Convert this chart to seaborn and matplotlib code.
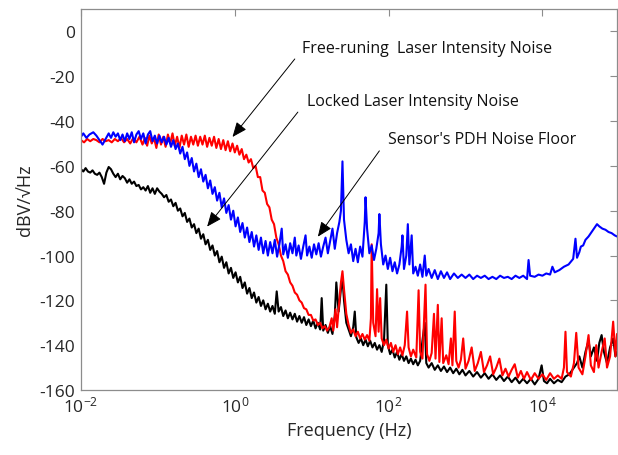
import matplotlib
matplotlib.use("Agg")
import numpy as np
import pandas as pd
import matplotlib.pyplot as plt
import seaborn as sns
from matplotlib.ticker import FixedLocator, NullLocator

# -----------------------------
# Data (log10 of frequency, dBV/sqrt(Hz))
# -----------------------------
blue_logf = [
    -2.00, -1.97, -1.93, -1.89, -1.84, -1.80, -1.76, -1.72, -1.68, -1.64,
    -1.61, -1.58, -1.55, -1.52, -1.49, -1.46, -1.43, -1.40, -1.37, -1.34,
    -1.31, -1.28, -1.25, -1.22, -1.19, -1.16, -1.13, -1.10, -1.07, -1.04,
    -1.01, -0.98, -0.95, -0.92, -0.89, -0.86, -0.83, -0.80, -0.77, -0.74,
    -0.71, -0.68, -0.65, -0.62, -0.59, -0.56, -0.53, -0.50, -0.47, -0.44,
    -0.41, -0.38, -0.35, -0.32, -0.29, -0.26, -0.23, -0.20, -0.17, -0.14,
    -0.11, -0.08, -0.05, -0.02, 0.01, 0.04, 0.07, 0.10, 0.13, 0.16,
    0.19, 0.22, 0.25, 0.28, 0.31, 0.34, 0.37, 0.40, 0.43, 0.46,
    0.49, 0.52, 0.55, 0.58, 0.61, 0.63, 0.66, 0.69, 0.72, 0.75,
    0.78, 0.80, 0.83, 0.86, 0.89, 0.92, 0.94, 0.97, 1.00, 1.03,
    1.06, 1.09, 1.12, 1.15, 1.18, 1.21, 1.24, 1.27, 1.30, 1.33,
    1.36, 1.38, 1.40, 1.42, 1.45, 1.48, 1.51, 1.54, 1.57, 1.60,
    1.63, 1.66, 1.69, 1.70, 1.72, 1.75, 1.78, 1.81, 1.84, 1.87,
    1.88, 1.90, 1.93, 1.96, 1.99, 2.02, 2.05, 2.08, 2.11, 2.14,
    2.17, 2.18, 2.20, 2.23, 2.25, 2.27, 2.30, 2.32, 2.35, 2.38,
    2.41, 2.44, 2.47, 2.49, 2.52, 2.56, 2.60, 2.64, 2.68, 2.72,
    2.76, 2.80, 2.85, 2.90, 2.95, 3.00, 3.05, 3.10, 3.15, 3.20,
    3.25, 3.30, 3.35, 3.40, 3.45, 3.50, 3.55, 3.60, 3.65, 3.70,
    3.75, 3.80, 3.82, 3.84, 3.90, 3.95, 4.00, 4.05, 4.10, 4.13,
    4.16, 4.22, 4.28, 4.34, 4.40, 4.43, 4.45, 4.48, 4.50, 4.53,
    4.56, 4.60, 4.64, 4.68, 4.71, 4.74, 4.78, 4.82, 4.86, 4.90,
    4.94, 4.97,
]
blue_db = [
    -47.0, -45.5, -47.5, -46.0, -45.0, -46.5, -48.5, -50.5, -48.0, -45.5,
    -47.5, -45.0, -47.0, -45.5, -48.5, -46.0, -49.0, -45.5, -48.0, -45.0,
    -49.5, -46.0, -44.5, -48.0, -45.5, -50.0, -46.0, -44.5, -49.0, -46.5,
    -50.0, -46.5, -49.5, -47.0, -50.5, -47.5, -51.5, -48.5, -52.5, -50.0,
    -54.5, -51.5, -57.0, -54.0, -60.0, -56.5, -62.5, -59.0, -65.0, -61.5,
    -67.0, -64.0, -70.0, -66.5, -72.5, -69.5, -75.5, -72.0, -78.5, -74.5,
    -81.0, -77.5, -84.0, -80.0, -87.0, -83.0, -89.5, -85.5, -92.0, -87.5,
    -94.0, -89.5, -96.0, -91.0, -97.5, -92.0, -99.0, -93.5, -100.0, -94.0,
    -99.0, -93.0, -100.5, -95.0, -88.0, -99.5, -95.0, -101.0, -94.5, -99.0,
    -92.0, -100.0, -95.5, -101.5, -96.0, -91.0, -100.0, -96.0, -101.0, -95.0,
    -99.5, -94.5, -100.5, -96.0, -92.0, -99.0, -93.5, -88.0, -97.0, -90.0,
    -85.0, -80.0, -58.0, -84.0, -93.0, -99.0, -95.0, -102.5, -97.0, -103.0,
    -96.0, -100.5, -85.0, -74.0, -88.0, -99.0, -95.5, -102.0, -97.0, -90.0,
    -81.5, -95.0, -104.0, -100.0, -106.0, -101.0, -107.0, -103.0, -108.0, -104.0,
    -96.0, -91.0, -106.0, -100.0, -86.0, -104.0, -91.0, -108.0, -105.0, -109.0,
    -104.0, -109.5, -100.0, -109.0, -106.0, -110.0, -106.5, -110.5, -107.0, -110.0,
    -107.5, -110.5, -108.0, -110.0, -108.5, -110.0, -108.5, -110.5, -109.0, -110.0,
    -109.0, -110.5, -109.5, -110.5, -109.0, -110.0, -109.5, -110.5, -109.0, -110.0,
    -109.0, -110.5, -102.0, -109.0, -109.5, -108.5, -109.0, -108.0, -108.5, -105.0,
    -107.5, -106.5, -105.0, -104.0, -101.5, -92.5, -101.0, -98.5, -96.0, -95.5,
    -93.0, -91.5, -89.5, -87.5, -86.0, -87.0, -88.0, -88.5, -89.5, -90.0,
    -91.0, -91.5,
]

red_logf = [
    -2.00, -1.96, -1.92, -1.88, -1.84, -1.80, -1.76, -1.72, -1.68, -1.64,
    -1.60, -1.56, -1.52, -1.48, -1.44, -1.40, -1.36, -1.32, -1.28, -1.24,
    -1.20, -1.17, -1.14, -1.11, -1.08, -1.05, -1.02, -0.99, -0.96, -0.93,
    -0.90, -0.87, -0.84, -0.81, -0.78, -0.75, -0.72, -0.69, -0.66, -0.63,
    -0.60, -0.57, -0.54, -0.51, -0.48, -0.45, -0.42, -0.39, -0.36, -0.33,
    -0.30, -0.27, -0.24, -0.21, -0.18, -0.15, -0.12, -0.09, -0.06, -0.03,
    0.00, 0.03, 0.06, 0.09, 0.12, 0.15, 0.18, 0.21, 0.24, 0.27,
    0.30, 0.33, 0.36, 0.39, 0.42, 0.45, 0.48, 0.51, 0.54, 0.57,
    0.60, 0.63, 0.66, 0.69, 0.72, 0.75, 0.78, 0.81, 0.84, 0.87,
    0.90, 0.93, 0.96, 0.99, 1.02, 1.05, 1.08, 1.11, 1.14, 1.17,
    1.20, 1.23, 1.26, 1.28, 1.31, 1.33, 1.36, 1.38, 1.40, 1.42,
    1.45, 1.48, 1.51, 1.54, 1.57, 1.60, 1.63, 1.66, 1.69, 1.72,
    1.75, 1.77, 1.78, 1.80, 1.83, 1.85, 1.87, 1.89, 1.91, 1.94,
    1.97, 2.00, 2.03, 2.06, 2.09, 2.12, 2.15, 2.18, 2.21, 2.24,
    2.26, 2.29, 2.32, 2.36, 2.39, 2.41, 2.44, 2.48, 2.50, 2.53,
    2.56, 2.59, 2.61, 2.64, 2.66, 2.69, 2.71, 2.75, 2.78, 2.81,
    2.83, 2.86, 2.88, 2.91, 2.94, 2.97, 3.00, 3.04, 3.08, 3.12,
    3.16, 3.20, 3.24, 3.28, 3.32, 3.36, 3.40, 3.44, 3.48, 3.52,
    3.56, 3.60, 3.64, 3.68, 3.72, 3.76, 3.80, 3.85, 3.90, 3.95,
    4.00, 4.05, 4.10, 4.15, 4.20, 4.25, 4.28, 4.30, 4.32, 4.37,
    4.41, 4.44, 4.47, 4.52, 4.56, 4.60, 4.63, 4.67, 4.70, 4.73,
    4.77, 4.81, 4.84, 4.88, 4.92, 4.95, 4.97,
]
red_db = [
    -48.5, -49.5, -48.0, -49.0, -48.0, -48.5, -49.5, -48.0, -49.0, -48.5,
    -49.5, -48.0, -49.0, -47.5, -49.5, -48.0, -50.0, -47.5, -49.5, -47.0,
    -50.5, -47.5, -51.0, -46.5, -50.0, -47.5, -52.0, -46.0, -50.5, -47.0,
    -51.5, -46.0, -50.0, -45.5, -51.0, -47.0, -52.0, -46.5, -50.5, -46.0,
    -51.5, -47.0, -50.5, -46.5, -51.0, -47.0, -50.5, -46.5, -51.5, -47.5,
    -51.0, -47.0, -52.0, -48.0, -52.5, -48.5, -53.0, -49.0, -53.5, -50.0,
    -54.0, -51.0, -55.0, -52.5, -57.0, -55.0, -58.5, -57.0, -61.0, -60.0,
    -65.0, -65.0, -71.0, -72.0, -77.0, -78.5, -84.0, -86.0, -92.0, -95.0,
    -100.0, -102.5, -107.0, -108.5, -112.0, -113.5, -116.5, -117.5, -120.0, -121.0,
    -123.5, -124.0, -126.5, -126.5, -129.0, -128.5, -131.0, -130.0, -132.5, -131.5,
    -133.5, -132.0, -128.0, -133.5, -124.0, -132.0, -120.0, -112.0, -107.0, -115.0,
    -126.0, -131.0, -134.5, -133.0, -136.0, -134.0, -137.0, -135.0, -137.5, -135.5,
    -138.0, -128.0, -95.0, -130.0, -136.0, -115.0, -134.0, -119.0, -137.0, -140.0,
    -137.5, -141.5, -139.0, -143.0, -140.0, -144.0, -141.0, -144.5, -140.0, -125.0,
    -141.0, -145.0, -142.0, -145.5, -115.5, -143.0, -146.0, -113.0, -144.0, -147.0,
    -143.5, -126.0, -146.0, -122.0, -147.5, -128.0, -148.0, -144.5, -148.5, -137.0,
    -149.0, -125.0, -147.0, -150.0, -146.5, -137.0, -150.5, -147.0, -141.0, -151.5,
    -148.0, -143.0, -152.0, -149.0, -145.0, -153.0, -150.0, -146.0, -153.5, -150.5,
    -154.0, -151.0, -148.5, -154.5, -151.5, -155.0, -152.0, -155.5, -152.5, -155.0,
    -153.0, -155.5, -152.5, -155.0, -153.5, -155.0, -150.0, -134.0, -152.0, -154.0,
    -148.0, -134.5, -150.0, -153.0, -145.0, -135.5, -149.0, -152.0, -140.0, -150.0,
    -143.0, -137.0, -150.0, -145.0, -129.5, -145.0, -135.0,
]

black_logf = [
    -2.00, -1.97, -1.94, -1.91, -1.88, -1.85, -1.82, -1.79, -1.76, -1.73,
    -1.70, -1.67, -1.64, -1.61, -1.58, -1.55, -1.52, -1.49, -1.46, -1.43,
    -1.40, -1.37, -1.34, -1.31, -1.28, -1.25, -1.22, -1.19, -1.16, -1.13,
    -1.10, -1.07, -1.04, -1.01, -0.98, -0.95, -0.92, -0.89, -0.86, -0.83,
    -0.80, -0.77, -0.74, -0.71, -0.68, -0.65, -0.62, -0.59, -0.56, -0.53,
    -0.50, -0.47, -0.44, -0.41, -0.38, -0.35, -0.32, -0.29, -0.26, -0.23,
    -0.20, -0.17, -0.14, -0.11, -0.08, -0.05, -0.02, 0.01, 0.04, 0.07,
    0.10, 0.13, 0.16, 0.19, 0.22, 0.25, 0.28, 0.31, 0.34, 0.37,
    0.40, 0.43, 0.46, 0.49, 0.52, 0.545, 0.57, 0.60, 0.63, 0.66,
    0.69, 0.72, 0.75, 0.78, 0.81, 0.84, 0.87, 0.90, 0.93, 0.96,
    0.99, 1.02, 1.05, 1.08, 1.11, 1.13, 1.15, 1.18, 1.21, 1.24,
    1.27, 1.30, 1.32, 1.35, 1.38, 1.40, 1.42, 1.45, 1.48, 1.51,
    1.54, 1.56, 1.58, 1.61, 1.64, 1.67, 1.70, 1.73, 1.76, 1.79,
    1.82, 1.85, 1.88, 1.91, 1.94, 1.97, 1.99, 2.02, 2.05, 2.08,
    2.11, 2.14, 2.17, 2.20, 2.23, 2.26, 2.29, 2.32, 2.35, 2.38,
    2.41, 2.44, 2.47, 2.49, 2.52, 2.56, 2.60, 2.64, 2.68, 2.72,
    2.76, 2.80, 2.84, 2.88, 2.92, 2.96, 3.00, 3.05, 3.10, 3.15,
    3.20, 3.25, 3.30, 3.35, 3.40, 3.45, 3.50, 3.55, 3.60, 3.65,
    3.70, 3.75, 3.80, 3.85, 3.90, 3.95, 3.99, 4.02, 4.06, 4.10,
    4.15, 4.20, 4.25, 4.30, 4.35, 4.40, 4.45, 4.48, 4.52, 4.56,
    4.60, 4.63, 4.67, 4.71, 4.74, 4.77, 4.80, 4.84, 4.88, 4.92,
    4.95, 4.97,
]
black_db = [
    -61.5, -62.5, -61.0, -62.5, -63.0, -62.0, -63.5, -64.0, -63.0, -65.0,
    -68.0, -63.0, -60.5, -61.5, -63.5, -65.0, -63.5, -66.0, -64.5, -65.5,
    -67.5, -66.0, -68.0, -67.0, -69.0, -68.5, -70.5, -69.5, -71.0, -69.0,
    -72.0, -70.0, -72.5, -70.0, -71.5, -72.5, -74.0, -73.0, -76.0, -75.0,
    -78.0, -76.5, -80.0, -79.0, -82.5, -81.0, -85.0, -83.5, -87.5, -86.0,
    -90.0, -88.0, -92.5, -90.5, -95.0, -93.0, -97.5, -95.5, -100.0, -98.0,
    -103.0, -100.5, -105.5, -103.0, -108.0, -105.5, -110.0, -107.5, -112.0, -109.5,
    -114.5, -112.0, -117.0, -114.5, -119.0, -116.5, -121.0, -118.5, -122.5, -120.0,
    -124.0, -121.5, -125.0, -122.5, -126.0, -116.0, -125.0, -123.0, -127.0, -124.5,
    -128.0, -125.5, -128.5, -126.0, -129.5, -127.0, -130.0, -127.5, -131.0, -128.5,
    -131.5, -129.0, -132.5, -130.0, -133.0, -119.0, -133.5, -131.0, -134.5, -131.5,
    -135.0, -127.0, -112.0, -125.0, -115.0, -110.0, -120.0, -130.0, -133.0, -136.0,
    -132.0, -125.0, -136.5, -139.0, -137.0, -140.0, -137.5, -140.5, -138.0, -141.0,
    -139.0, -142.0, -140.0, -143.0, -138.0, -113.0, -140.0, -144.0, -142.0, -145.5,
    -143.0, -146.5, -144.0, -147.0, -145.0, -148.0, -146.0, -148.5, -146.5, -149.0,
    -147.0, -138.0, -130.0, -148.0, -150.0, -148.0, -151.0, -149.0, -151.5, -149.5,
    -152.0, -150.0, -152.5, -150.5, -153.0, -151.0, -153.5, -151.5, -154.0, -152.0,
    -154.5, -152.5, -155.0, -153.0, -155.5, -153.5, -156.0, -154.0, -156.5, -154.5,
    -157.0, -155.0, -157.0, -155.0, -157.5, -155.0, -149.0, -156.0, -157.0, -155.0,
    -157.0, -155.5, -156.5, -154.0, -153.0, -150.5, -148.0, -145.0, -150.0, -143.0,
    -138.0, -145.0, -141.0, -147.0, -139.0, -135.5, -143.0, -148.0, -141.0, -137.0,
    -145.0, -143.0,
]

# annotation texts, text anchor (log f, dB), arrow tail and arrow tip
note_texts = [
    "Free-runing  Laser Intensity Noise",
    "Locked Laser Intensity Noise",
    "Sensor's PDH Noise Floor",
]
note_text_logf = [0.88, 0.94, 1.99]
note_text_db = [-7.5, -31.0, -48.0]
note_tail_logf = [0.78, 0.82, 1.88]
note_tail_db = [-12.3, -36.0, -53.3]
note_tip_logf = [-0.03, -0.36, 1.08]
note_tip_db = [-47.1, -87.1, -91.6]

y_ticks = [-160, -140, -120, -100, -80, -60, -40, -20, 0]
x_ticks = [1e-2, 1e0, 1e2, 1e4]

# -----------------------------
# Build table
# -----------------------------
frames = []
for name, lf, db in [
    ("black", black_logf, black_db),
    ("red", red_logf, red_db),
    ("blue", blue_logf, blue_db),
]:
    assert len(lf) == len(db), name
    frames.append(pd.DataFrame({"freq": 10 ** np.array(lf), "db": db, "trace": name}))
df = pd.concat(frames, ignore_index=True)

# -----------------------------
# Plot
# -----------------------------
sns.set_theme(style="white")
plt.rcParams["font.family"] = ["Open Sans", "DejaVu Sans"]
plt.rcParams["axes.unicode_minus"] = False

fig = plt.figure(figsize=(6.18, 4.56), dpi=100)
ax = fig.add_axes([81 / 618, 65 / 456, 536 / 618, 381 / 456])

colors = {"black": "#000000", "red": "#ff0000", "blue": "#0000ff"}
for name in ["black", "red", "blue"]:
    sns.lineplot(
        data=df[df["trace"] == name],
        x="freq",
        y="db",
        color=colors[name],
        linewidth=1.5,
        estimator=None,
        sort=False,
        ax=ax,
    )

ax.set_xscale("log")
ax.set_xlim(1e-2, 10 ** 4.97)
ax.set_ylim(-160, 10)
ax.xaxis.set_major_locator(FixedLocator(x_ticks))
ax.xaxis.set_minor_locator(NullLocator())
ax.set_yticks(y_ticks)

ax.set_xlabel("Frequency (Hz)", fontsize=13, color="#262626")
ax.set_ylabel("dBV/\u221aHz", fontsize=13, color="#262626")

ax.tick_params(
    direction="in", length=5, width=0.8, top=True, right=True,
    color="#8c8c8c", labelcolor="#262626", labelsize=12.5, pad=4,
)
for side in ["left", "bottom", "top", "right"]:
    ax.spines[side].set_color("#8c8c8c")
    ax.spines[side].set_linewidth(0.9)

for i, txt in enumerate(note_texts):
    ax.annotate(
        "",
        xy=(10 ** note_tip_logf[i], note_tip_db[i]),
        xytext=(10 ** note_tail_logf[i], note_tail_db[i]),
        arrowprops=dict(
            arrowstyle="-|>,head_length=0.6,head_width=0.25",
            mutation_scale=15,
            color="black",
            lw=0.7,
            shrinkA=0,
            shrinkB=0,
        ),
    )
    ax.text(
        10 ** note_text_logf[i], note_text_db[i], txt,
        fontsize=11.5, color="#111111", ha="left", va="center",
    )

fig.savefig("out.png", dpi=100)
